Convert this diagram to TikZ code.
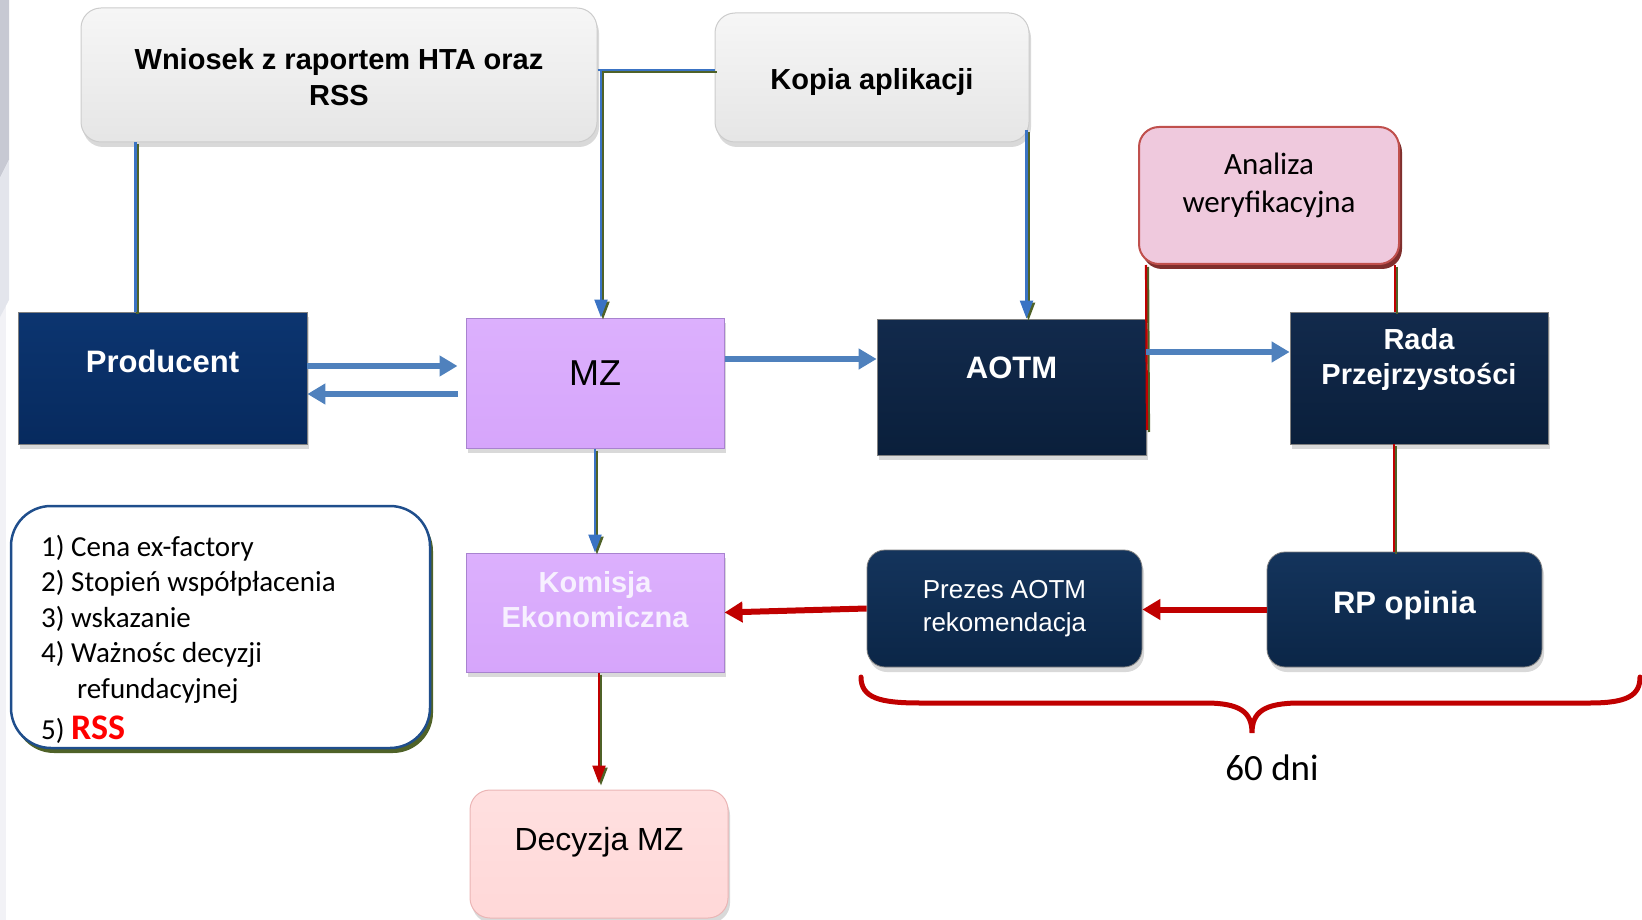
\documentclass[tikz,border=0pt]{standalone}
\usepackage{fontspec}
\setmainfont{Liberation Sans}
\newfontfamily\calib{Carlito}
\usetikzlibrary{arrows.meta,shadows,calc}
\definecolor{navyA}{HTML}{072A5E}
\definecolor{navyAt}{HTML}{0C3570}
\definecolor{navyB}{HTML}{0A1F3B}
\definecolor{navyBt}{HTML}{122A4C}
\definecolor{navyC}{HTML}{0B2647}
\definecolor{navyCt}{HTML}{14345C}
\definecolor{lav}{HTML}{D6A5FB}
\definecolor{lavt}{HTML}{DCB0FD}
\definecolor{lavd}{HTML}{A883CF}
\definecolor{arrblue}{HTML}{4F81BD}
\definecolor{lnblue}{HTML}{3A73C4}
\definecolor{lngreen}{HTML}{4F6228}
\definecolor{dred}{HTML}{C00000}
\definecolor{pinkA}{HTML}{EFC9DD}
\definecolor{pinkAb}{HTML}{C0504D}
\definecolor{pinkAs}{HTML}{7F2F2D}
\definecolor{pinkB}{HTML}{FFD8D8}
\definecolor{pinkBb}{HTML}{EBB5B5}
\definecolor{brd}{HTML}{1F4E8C}
\definecolor{rssred}{HTML}{FF0000}
\definecolor{komtxt}{HTML}{F7F0FF}
\definecolor{decoA}{HTML}{C7C9D3}
\definecolor{decoB}{HTML}{E3E5EC}
\definecolor{decoC}{HTML}{F2F2F6}
\begin{document}
\begin{tikzpicture}[x=1pt,y=-1pt,
  shad/.style={drop shadow={opacity=0.3,shadow xshift=2pt,shadow yshift=-5pt}},
  grayb/.style={rectangle,rounded corners=20pt,draw=gray!40,line width=1pt,top color=gray!7,bottom color=gray!20,shad},
  darkA/.style={rectangle,draw=black!50,line width=0.8pt,top color=navyAt,bottom color=navyA,shad},
  darkB/.style={rectangle,draw=black!50,line width=0.8pt,top color=navyBt,bottom color=navyB,shad},
  darkC/.style={rectangle,rounded corners=18pt,draw=black!50,line width=0.8pt,top color=navyCt,bottom color=navyC,shad},
  lavb/.style={rectangle,draw=lavd,line width=1pt,top color=lavt,bottom color=lav,shad},
  pinkbox/.style={rectangle,rounded corners=20pt,draw=pinkAb,line width=2pt,fill=pinkA,
     drop shadow={fill=pinkAs,opacity=1,shadow xshift=3pt,shadow yshift=-5pt}},
  decbox/.style={rectangle,rounded corners=20pt,draw=pinkBb,line width=1pt,top color=pinkB!80!white,bottom color=pinkB,shad},
  listb/.style={rectangle,rounded corners=40pt,draw=brd,line width=2.5pt,fill=white,
     drop shadow={fill=lngreen,opacity=1,shadow xshift=3pt,shadow yshift=-5pt}},
  btxt/.style={font=\fontsize{29}{36}\selectfont\bfseries,align=center},
  wtxt/.style={btxt,text=white},
  thinl/.style={draw=lnblue,line width=2.2pt,preaction={draw=lngreen,line width=2.2pt,transform canvas={xshift=2pt,yshift=-2pt}}},
  thinr/.style={draw=dred,line width=2.2pt,preaction={draw=lngreen,line width=2.2pt,transform canvas={xshift=2pt,yshift=-2pt}}},
  tip/.style={-{Triangle[length=18pt,width=13pt]}},
  thickb/.style={draw=arrblue,line width=6pt,-{Triangle[length=18pt,width=20pt]}},
  thickr/.style={draw=dred,line width=6pt,-{Triangle[length=18pt,width=20pt]}},
  brace/.style={draw=dred,line width=5pt,line cap=round}
]
\useasboundingbox (0,0) rectangle (1642,920);
% left decoration
\fill[decoC] (0,300) rectangle (6,920);
\fill[decoA] (0,0) -- (9,0) -- (9,160) -- (0,178) -- cycle;
\fill[decoB] (0,178) -- (9,160) -- (9,300) -- (0,317) -- cycle;

% boxes
\node[grayb,minimum width=516pt,minimum height=134pt] (wniosek) at (339,75) {};
\node[btxt] (wniosekT) at (339,77) {Wniosek z raportem HTA oraz\\RSS};
\node[grayb,minimum width=314pt,minimum height=129pt] (kopia) at (872,77.5) {};
\node[btxt] (kopiaT) at (872,82) {Kopia aplikacji};

\node[darkA,minimum width=289pt,minimum height=132pt] (producent) at (162.5,378) {};
\node[wtxt,font=\fontsize{31}{36}\selectfont\bfseries] (producentT) at (162.5,361) {Producent};

\node[lavb,minimum width=258pt,minimum height=130pt] (mz) at (595,383) {};
\node[font=\fontsize{36}{40}\selectfont] (mzT) at (595,373) {MZ};

\node[darkB,minimum width=269pt,minimum height=136pt] (aotm) at (1011.5,387) {};
\node[wtxt,font=\fontsize{31}{36}\selectfont\bfseries] (aotmT) at (1011.5,368) {AOTM};

\node[darkB,minimum width=258pt,minimum height=132pt] (rada) at (1419,378) {};
\node[wtxt,font=\fontsize{29}{35}\selectfont\bfseries] (radaT) at (1419,360) {Rada\\Przejrzystości};

\node[pinkbox,minimum width=260pt,minimum height=137pt] (analiza) at (1269,195.5) {};
\node[font=\calib\fontsize{31}{38}\selectfont,align=center] (analizaT) at (1269,185) {Analiza\\weryfikacyjna};

\node[lavb,minimum width=258pt,minimum height=119pt] (komisja) at (595,612.5) {};
\node[btxt,text=komtxt,font=\fontsize{29}{35}\selectfont\bfseries] (komisjaT) at (595,600) {Komisja\\Ekonomiczna};

\node[darkC,minimum width=275pt,minimum height=117pt,text=white,align=center,font=\fontsize{26}{33}\selectfont] (prezes) at (1004.5,608.5) {Prezes AOTM\\rekomendacja};
\node[darkC,minimum width=275pt,minimum height=115pt] (rp) at (1404.5,609.5) {};
\node[wtxt,font=\fontsize{31}{36}\selectfont\bfseries] (rpT) at (1404.5,605) {RP opinia};

\node[decbox,minimum width=258pt,minimum height=128pt] (decyzja) at (599,854) {};
\node[font=\fontsize{32}{36}\selectfont] (decyzjaT) at (599,842) {Decyzja MZ};

\node[listb,minimum width=419pt,minimum height=242pt] (list) at (220.5,627) {};
\node[anchor=north west,align=left,inner sep=0pt,font=\calib\fontsize{29}{35.5}\selectfont] (listT) at (41,535)
 {1) Cena ex-factory\\2) Stopień współpłacenia\\3) wskazanie\\4) Ważnośc decyzji\\\hspace*{36pt}refundacyjnej\\[6pt]5) {\bfseries\fontsize{36}{35}\selectfont\color{rssred}RSS}};

% thin connectors
\coordinate (j1) at (601,70);
\coordinate (aend) at (1147,430);
\draw[thinl] ([xshift=55pt]wniosek.south west) -- ([xshift=55pt]wniosek.south west |- producent.north);
\draw[thinl] ([yshift=5pt]wniosek.east) -- ([yshift=5pt]wniosek.east -| kopia.west);
\draw[thinl,tip] (j1) -- (j1 |- mz.north);
\draw[thinl,tip] ([xshift=-3pt,yshift=12pt]kopia.south east) -- ([xshift=-3pt]kopia.south east |- aotm.north);
\draw[thinl,tip] (mz.south) -- (komisja.north);
\draw[thinr] ([xshift=8pt]analiza.south west) -- (aend);
\draw[thinr] ([xshift=-5pt]analiza.south east) -- ([xshift=-5pt]analiza.south east |- rada.north);
\draw[thinr] ([xshift=-25pt]rada.south) -- ([xshift=-25pt]rada.south |- rp.north);
\draw[thinr,tip,shorten >=6pt] ([xshift=4pt]komisja.south) -- ([xshift=4pt]komisja.south |- decyzja.north);

% thick connectors
\draw[thickb,shorten >=8pt] ([yshift=12pt]producent.east) -- ([yshift=12pt]producent.east -| mz.west);
\draw[thickb,shorten <=8pt] ([yshift=-11pt]mz.west) -- ([yshift=-11pt]mz.west -| producent.east);
\draw[thickb] ([yshift=24pt]mz.east) -- ([yshift=24pt]mz.east -| aotm.west);
\draw[thickb] ([yshift=35pt]aotm.east) -- ([yshift=35pt]aotm.east -| rada.west);
\draw[thickr] (rp.west) -- (rp.west -| prezes.east);
\draw[thickr] (prezes.west) -- (komisja.east);

% brace
\draw[brace] (861,677) .. controls (861,698) and (880,703) .. (920,703) -- (1205,703)
  .. controls (1240,703) and (1252,712) .. (1252,733)
  .. controls (1252,712) and (1264,703) .. (1300,703) -- (1590,703)
  .. controls (1628,703) and (1640,695) .. (1640,677);
\node[font=\calib\fontsize{37}{40}\selectfont] (sixty) at (1272,768) {60 dni};
\end{tikzpicture}
\end{document}
